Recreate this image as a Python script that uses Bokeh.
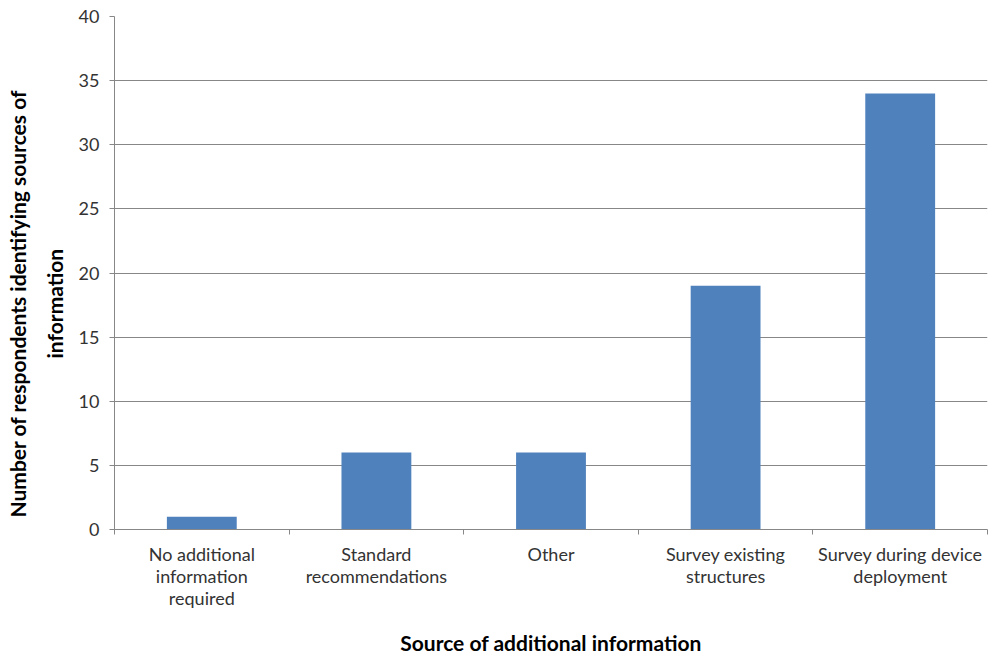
from bokeh.plotting import figure
from bokeh.models import FixedTicker, Range1d, Title
from bokeh.embed import file_html
from bokeh.resources import INLINE

categories = ["No additional\ninformation\nrequired", "Standard\nrecommendations", "Other",
              "Survey existing\nstructures", "Survey during device\ndeployment"]
values = [1, 6, 6, 19, 34]
y_ticks = [0, 5, 10, 15, 20, 25, 30, 35, 40]
y_title_lines = ["Number of respondents identifying sources of", "information"]

centers = [i + 0.5 for i in range(len(categories))]
bounds = list(range(len(categories) + 1))

p = figure(width=989, height=657, output_backend="svg", toolbar_location=None,
           x_range=Range1d(0, len(categories)), y_range=Range1d(0, 40),
           min_border_left=114, min_border_right=2, min_border_top=16, min_border_bottom=128)
p.outline_line_color = None
p.background_fill_color = "white"

p.vbar(x=centers, top=values, width=0.4, fill_color="#4F81BD", line_color=None)

GREY = "#878787"
TXT = "#333333"
FONT = "Lato"

p.xaxis.ticker = FixedTicker(ticks=centers, minor_ticks=bounds)
p.xaxis.major_label_overrides = {c: lab for c, lab in zip(centers, categories)}
p.xaxis.major_tick_line_color = None
p.xaxis.minor_tick_line_color = GREY
p.xaxis.minor_tick_out = 5
p.xaxis.minor_tick_in = 0
p.xaxis.axis_line_color = GREY
p.xaxis.major_label_text_font = FONT
p.xaxis.major_label_text_font_size = "18px"
p.xaxis.major_label_text_line_height = 1.0
p.xaxis.major_label_text_color = TXT
p.xaxis.major_label_standoff = 7
p.xaxis.axis_label = "Source of additional information"
p.xaxis.axis_label_text_font = FONT
p.xaxis.axis_label_text_font_style = "bold"
p.xaxis.axis_label_text_font_size = "21px"
p.xaxis.axis_label_text_line_height = 1.0
p.xaxis.axis_label_text_color = "black"
p.xaxis.axis_label_standoff = 18
p.xgrid.grid_line_color = None

p.yaxis.ticker = FixedTicker(ticks=y_ticks, minor_ticks=[])
p.yaxis.axis_line_color = GREY
p.yaxis.major_tick_line_color = GREY
p.yaxis.major_tick_out = 5
p.yaxis.major_tick_in = 0
p.yaxis.major_label_text_font = FONT
p.yaxis.major_label_text_font_size = "18px"
p.yaxis.major_label_text_color = TXT
p.yaxis.major_label_standoff = 10
p.ygrid.grid_line_color = GREY
p.ygrid.grid_line_width = 1

# y-axis title, two lines, shifted downward like the reference
for txt, off, so in [(y_title_lines[1], 171, 17), (y_title_lines[0], 12, 3)]:
    p.add_layout(Title(text=txt, align="left", offset=off, text_font=FONT,
                       text_font_size="21px", text_font_style="bold",
                       text_color="black", standoff=so), "left")

open("out.html", "w").write(file_html(p, INLINE))
